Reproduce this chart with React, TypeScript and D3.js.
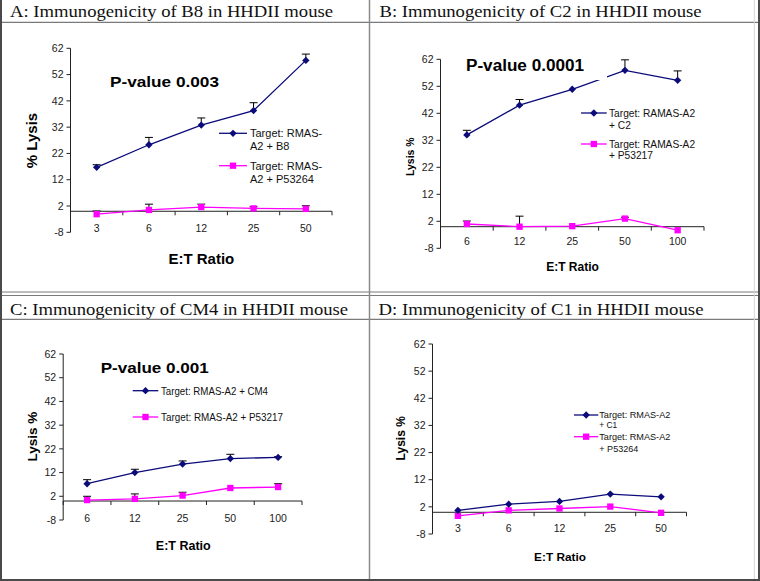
import React from 'react';
import * as d3 from 'd3';

// ---------- data ----------
const yTickValues = [-8, 2, 12, 22, 32, 42, 52, 62];

const catsA = ['3', '6', '12', '25', '50'];
const b8 = [16.7, 25.3, 32.8, 38.3, 57.4];
const b8Err = [1.0, 2.8, 2.7, 3.0, 2.4];
const p53264A = [-1.1, 0.5, 1.6, 1.1, 0.9];
const p53264AErr = [1.2, 2.2, 1.1, 0.6, 1.2];

const catsB = ['6', '12', '25', '50', '100'];
const c2 = [34.0, 45.0, 50.9, 57.9, 54.2];
const c2Err = [1.7, 2.1, 0, 3.9, 3.5];
const p53217B = [1.0, 0.0, 0.2, 3.0, -1.3];
const p53217BErr = [1.1, 3.9, 0, 0.5, 0];

const catsC = ['6', '12', '25', '50', '100'];
const cm4 = [7.3, 12.0, 15.6, 17.9, 18.4];
const cm4Err = [1.7, 1.4, 1.3, 1.8, 0.3];
const p53217C = [0.4, 0.9, 2.3, 5.5, 5.9];
const p53217CErr = [1.6, 2.1, 1.4, 0, 1.4];

const catsD = ['3', '6', '12', '25', '50'];
const c1 = [0.7, 3.0, 4.0, 6.7, 5.7];
const p53264D = [-1.3, 0.7, 1.4, 2.1, -0.2];

const titles = [
  'A: Immunogenicity of B8 in HHDII mouse',
  'B: Immunogenicity of C2 in HHDII mouse',
  'C: Immunogenicity of CM4 in HHDII mouse',
  'D: Immunogenicity of C1 in HHDII mouse',
];

const NAVY = '#0b0b7a';
const MAGENTA = '#ff00ff';
const SANS = '"Liberation Sans", Arial, Helvetica, sans-serif';
const SERIF = '"Liberation Serif", "Times New Roman", serif';

type Legend = { y: number; lx1: number; lx2: number; tx: number; lines: string[]; baselines: number[]; widths?: number[] };

type PanelCfg = {
  x0: number; x1: number; yTop: number; yBot: number;
  cats: string[];
  s1: number[]; e1?: number[]; s2: number[]; e2?: number[];
  tickFont: number; xTickBase: number;
  pval?: { text: string; x: number; y: number; size: number; width: number; box?: [number, number, number, number] };
  ylabel: { text: string; x: number; y: number; size: number };
  xlabel: { x: number; y: number; size: number };
  legendFont: number;
  legend: [Legend, Legend];
};

const diamond = d3.symbol(d3.symbolSquare, 27)();
const square = d3.symbol(d3.symbolSquare, 40)();

function Panel({ cfg }: { cfg: PanelCfg }) {
  const x = d3.scaleBand<string>().domain(cfg.cats).range([cfg.x0, cfg.x1]).padding(0);
  const y = d3.scaleLinear().domain([-8, 62]).range([cfg.yBot, cfg.yTop]);
  const cx = (c: string) => (x(c) as number) + x.bandwidth() / 2;
  const line = d3.line<number>().x((_, i) => cx(cfg.cats[i])).y((d) => y(d));
  const bounds = [...cfg.cats.map((c) => x(c) as number), cfg.x1];
  const y0 = y(0);

  const errBars = (s: number[], e?: number[]) =>
    e
      ? s.map((v, i) =>
          e[i] > 0 ? (
            <g key={i} stroke="#000" strokeWidth={1} fill="none">
              <line x1={cx(cfg.cats[i])} x2={cx(cfg.cats[i])} y1={y(v)} y2={y(v + e[i])} />
              <line x1={cx(cfg.cats[i]) - 4} x2={cx(cfg.cats[i]) + 4} y1={y(v + e[i])} y2={y(v + e[i])} />
            </g>
          ) : null
        )
      : null;

  return (
    <g>
      {/* y axis */}
      <line x1={cfg.x0} x2={cfg.x0} y1={cfg.yTop} y2={cfg.yBot} stroke="#222" strokeWidth={1} />
      {yTickValues.map((t) => (
        <g key={t}>
          <line x1={cfg.x0 - 4} x2={cfg.x0} y1={y(t)} y2={y(t)} stroke="#222" strokeWidth={1} />
          <text x={cfg.x0 - 7} y={y(t)} dy="0.35em" textAnchor="end" fontSize={cfg.tickFont} fontFamily={SANS} fill="#222">
            {t}
          </text>
        </g>
      ))}
      {/* x axis at 0 */}
      <line x1={cfg.x0} x2={cfg.x1} y1={y0} y2={y0} stroke="#222" strokeWidth={1} />
      {bounds.map((b, i) => (
        <line key={i} x1={b} x2={b} y1={y0} y2={y0 + 4} stroke="#222" strokeWidth={1} />
      ))}
      {cfg.cats.map((c) => (
        <text key={c} x={cx(c)} y={cfg.xTickBase} textAnchor="middle" fontSize={cfg.tickFont} fontFamily={SANS} fill="#222">
          {c}
        </text>
      ))}
      {/* error bars */}
      {errBars(cfg.s1, cfg.e1)}
      {errBars(cfg.s2, cfg.e2)}
      {/* lines */}
      <path d={line(cfg.s2) || ''} fill="none" stroke={MAGENTA} strokeWidth={1.3} />
      <path d={line(cfg.s1) || ''} fill="none" stroke={NAVY} strokeWidth={1.3} />
      {cfg.s2.map((v, i) => (
        <path key={i} d={square || ''} transform={`translate(${cx(cfg.cats[i])},${y(v)})`} fill={MAGENTA} />
      ))}
      {cfg.s1.map((v, i) => (
        <path key={i} d={diamond || ''} transform={`translate(${cx(cfg.cats[i])},${y(v)}) rotate(45)`} fill={NAVY} />
      ))}
      {/* p-value */}
      {cfg.pval && (
        <g>
          {cfg.pval.box && (
            <rect x={cfg.pval.box[0]} y={cfg.pval.box[1]} width={cfg.pval.box[2]} height={cfg.pval.box[3]} fill="#fff" />
          )}
          <text
            x={cfg.pval.x}
            y={cfg.pval.y}
            fontSize={cfg.pval.size}
            fontWeight="bold"
            fontFamily={SANS}
            fill="#000"
            textLength={cfg.pval.width}
            lengthAdjust="spacingAndGlyphs"
          >
            {cfg.pval.text}
          </text>
        </g>
      )}
      {/* legend */}
      {cfg.legend.map((lg, k) => (
        <g key={k}>
          <line x1={lg.lx1} x2={lg.lx2} y1={lg.y} y2={lg.y} stroke={k === 0 ? NAVY : MAGENTA} strokeWidth={1.3} />
          {k === 0 ? (
            <path d={diamond || ''} transform={`translate(${(lg.lx1 + lg.lx2) / 2},${lg.y}) rotate(45)`} fill={NAVY} />
          ) : (
            <path d={square || ''} transform={`translate(${(lg.lx1 + lg.lx2) / 2},${lg.y})`} fill={MAGENTA} />
          )}
          {lg.lines.map((t, j) => (
            <text
              key={j}
              x={lg.tx}
              y={lg.baselines[j]}
              fontSize={cfg.legendFont}
              fontFamily={SANS}
              fill="#111"
              {...(lg.widths ? { textLength: lg.widths[j], lengthAdjust: 'spacingAndGlyphs' } : {})}
            >
              {t}
            </text>
          ))}
        </g>
      ))}
      {/* axis titles */}
      <text
        transform={`translate(${cfg.ylabel.x},${cfg.ylabel.y}) rotate(-90)`}
        textAnchor="middle"
        fontSize={cfg.ylabel.size}
        fontWeight="bold"
        fontFamily={SANS}
        fill="#000"
      >
        {cfg.ylabel.text}
      </text>
      <text x={cfg.xlabel.x} y={cfg.xlabel.y} textAnchor="middle" fontSize={cfg.xlabel.size} fontWeight="bold" fontFamily={SANS} fill="#000">
        E:T Ratio
      </text>
    </g>
  );
}

const panelA: PanelCfg = {
  x0: 70.5, x1: 332, yTop: 48.3, yBot: 232.3, cats: catsA,
  s1: b8, e1: b8Err, s2: p53264A, e2: p53264AErr,
  tickFont: 10.5, xTickBase: 232,
  pval: { text: 'P-value 0.003', x: 110, y: 87, size: 15, width: 109 },
  ylabel: { text: '% Lysis', x: 37, y: 140.5, size: 15 },
  xlabel: { x: 201.3, y: 264.4, size: 15 },
  legendFont: 11,
  legend: [
    { y: 133.3, lx1: 219, lx2: 247, tx: 250, lines: ['Target: RMAS-', 'A2 + B8'], baselines: [137, 149.5] },
    { y: 165.7, lx1: 219, lx2: 247, tx: 250, lines: ['Target: RMAS-', 'A2 + P53264'], baselines: [169.5, 182.5] },
  ],
};

const panelB: PanelCfg = {
  x0: 440.5, x1: 704, yTop: 59.3, yBot: 248.3, cats: catsB,
  s1: c2, e1: c2Err, s2: p53217B, e2: p53217BErr,
  tickFont: 10.5, xTickBase: 244.5,
  pval: { text: 'P-value 0.0001', x: 466, y: 71, size: 16, width: 118, box: [462, 54, 145, 26] },
  ylabel: { text: 'Lysis %', x: 413.6, y: 156.7, size: 10.5 },
  xlabel: { x: 572.5, y: 271, size: 12 },
  legendFont: 10.2,
  legend: [
    { y: 113, lx1: 581, lx2: 606.7, tx: 609, lines: ['Target: RAMAS-A2', '+ C2'], baselines: [116.5, 128.5] },
    { y: 144, lx1: 581, lx2: 606.7, tx: 609, lines: ['Target: RAMAS-A2', '+ P53217'], baselines: [147.5, 159] },
  ],
};

const panelC: PanelCfg = {
  x0: 63.2, x1: 302, yTop: 354, yBot: 520, cats: catsC,
  s1: cm4, e1: cm4Err, s2: p53217C, e2: p53217CErr,
  tickFont: 10.5, xTickBase: 522,
  pval: { text: 'P-value 0.001', x: 100.7, y: 373.3, size: 15, width: 108 },
  ylabel: { text: 'Lysis %', x: 37, y: 436.7, size: 13.5 },
  xlabel: { x: 183.3, y: 550, size: 12.5 },
  legendFont: 10.5,
  legend: [
    { y: 390.7, lx1: 132.7, lx2: 158.3, tx: 161, lines: ['Target: RMAS-A2 + CM4'], baselines: [394.5], widths: [107] },
    { y: 417, lx1: 132.7, lx2: 158.3, tx: 161, lines: ['Target: RMAS-A2 + P53217'], baselines: [420.8], widths: [122] },
  ],
};

const panelD: PanelCfg = {
  x0: 432.5, x1: 686.5, yTop: 344, yBot: 534, cats: catsD,
  s1: c1, s2: p53264D,
  tickFont: 10.5, xTickBase: 532,
  ylabel: { text: 'Lysis %', x: 405, y: 438.3, size: 12 },
  xlabel: { x: 560, y: 560.8, size: 11.8 },
  legendFont: 9.8,
  legend: [
    { y: 415, lx1: 574, lx2: 598.3, tx: 599.3, lines: ['Target: RMAS-A2', '+ C1'], baselines: [418, 428], widths: [71, 18] },
    { y: 436.7, lx1: 574, lx2: 598.3, tx: 599.3, lines: ['Target: RMAS-A2', '+ P53264'], baselines: [439.5, 452], widths: [71, 39] },
  ],
};

export default function App() {
  return (
    <svg width={760} height={581} style={{ position: 'absolute', left: 0, top: 0, background: '#fff' }}>
      <rect x={0} y={0} width={760} height={581} fill="#fff" />
      {/* titles */}
      <text x={10} y={17.3} fontFamily={SERIF} fontSize={17} fill="#111" textLength={323} lengthAdjust="spacingAndGlyphs">{titles[0]}</text>
      <text x={379.5} y={17.3} fontFamily={SERIF} fontSize={17} fill="#111" textLength={322} lengthAdjust="spacingAndGlyphs">{titles[1]}</text>
      <text x={10} y={315} fontFamily={SERIF} fontSize={17} fill="#111" textLength={338} lengthAdjust="spacingAndGlyphs">{titles[2]}</text>
      <text x={378.5} y={315} fontFamily={SERIF} fontSize={17} fill="#111" textLength={325} lengthAdjust="spacingAndGlyphs">{titles[3]}</text>

      <Panel cfg={panelA} />
      <Panel cfg={panelB} />
      <Panel cfg={panelC} />
      <Panel cfg={panelD} />

      {/* table borders */}
      <g fill="none">
        <line x1={0} x2={760} y1={22.3} y2={22.3} stroke="#7a7a7a" strokeWidth={1.3} />
        <line x1={0} x2={760} y1={292} y2={292} stroke="#7a7a7a" strokeWidth={1.2} />
        <line x1={0} x2={760} y1={295.5} y2={295.5} stroke="#7a7a7a" strokeWidth={1.2} />
        <line x1={0} x2={760} y1={319.3} y2={319.3} stroke="#7a7a7a" strokeWidth={1.3} />
        <line x1={369.5} x2={369.5} y1={0} y2={581} stroke="#8a8a8a" strokeWidth={1.5} />
        <line x1={754.3} x2={754.3} y1={0} y2={581} stroke="#d6d6d6" strokeWidth={1} />
        <line x1={1} x2={1} y1={0} y2={581} stroke="#4a4a4a" strokeWidth={2} />
        <line x1={759} x2={759} y1={0} y2={581} stroke="#4a4a4a" strokeWidth={2} />
        <line x1={0} x2={760} y1={580} y2={580} stroke="#4a4a4a" strokeWidth={2} />
      </g>
    </svg>
  );
}
